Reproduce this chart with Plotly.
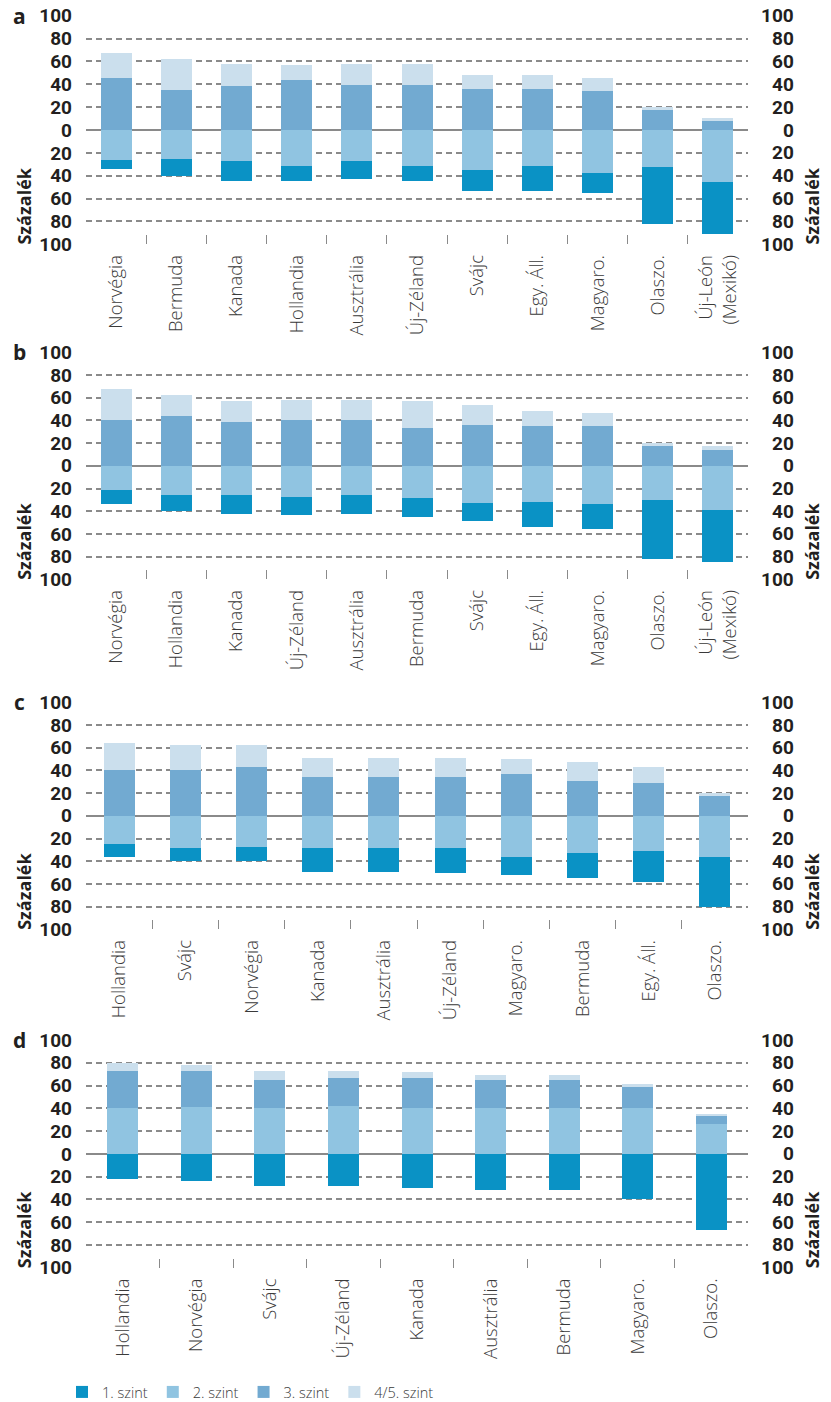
import plotly.graph_objects as go

# ---------------- data ----------------
LEVELS = ["1. szint", "2. szint", "3. szint", "4/5. szint"]
COLORS = ["#0a92c5", "#90c4e1", "#72aad1", "#cbdfed"]

a_cats = ["Norvégia", "Bermuda", "Kanada", "Hollandia", "Ausztrália", "Új-Zéland",
          "Svájc", "Egy. Áll.", "Magyaro.", "Olaszo.", "Új-León<br>(Mexikó)"]
a_l1 = [8, 15, 17, 13, 16, 13, 18, 22, 18, 50, 46]
a_l2 = [26, 25, 27, 31, 27, 31, 35, 31, 37, 32, 45]
a_l3 = [46, 35, 39, 44, 40, 40, 36, 36, 34, 18, 8]
a_l45 = [22, 27, 19, 13, 18, 18, 12, 12, 12, 2, 3]

b_cats = ["Norvégia", "Hollandia", "Kanada", "Új-Zéland", "Ausztrália", "Bermuda",
          "Svájc", "Egy. Áll.", "Magyaro.", "Olaszo.", "Új-León<br>(Mexikó)"]
b_l1 = [12, 14, 17, 16, 17, 16, 16, 22, 22, 52, 46]
b_l2 = [22, 26, 26, 28, 26, 29, 33, 32, 34, 30, 39]
b_l3 = [40, 44, 38, 40, 40, 33, 36, 35, 35, 17, 14]
b_l45 = [27, 18, 19, 18, 18, 24, 17, 13, 11, 3, 3]

c_cats = ["Hollandia", "Svájc", "Norvégia", "Kanada", "Ausztrália", "Új-Zéland",
          "Magyaro.", "Bermuda", "Egy. Áll.", "Olaszo."]
c_l1 = [12, 11, 12, 21, 21, 22, 15, 22, 28, 44]
c_l2 = [25, 29, 28, 29, 29, 29, 37, 33, 31, 37]
c_l3 = [40, 40, 43, 34, 34, 34, 37, 30, 29, 17]
c_l45 = [24, 22, 19, 17, 17, 17, 13, 17, 14, 3]

d_cats = ["Hollandia", "Norvégia", "Svájc", "Új-Zéland", "Kanada", "Ausztrália",
          "Bermuda", "Magyaro.", "Olaszo."]
d_l1 = [22, 24, 28, 28, 30, 32, 32, 40, 67]
d_l2 = [40, 41, 40, 42, 40, 40, 40, 40, 26]
d_l3 = [33, 32, 25, 25, 27, 25, 25, 19, 7]
d_l45 = [7, 5, 8, 6, 5, 4, 4, 2, 2]

panel_letters = ["a", "b", "c", "d"]
y_ticks = [-100, -80, -60, -40, -20, 0, 20, 40, 60, 80, 100]
y_ticktext = [str(abs(v)) for v in y_ticks]

# ---------------- layout geometry ----------------
W, H = 831, 1402
PL, PR = 86, 748            # plot area left/right (px)
PANELS_PX = [(15.7, 244.3), (352.3, 579.3), (702.3, 929.3), (1040, 1267.7)]
BAR_PX = 31
GRID = "#8a8a8a"
TXT = "#231f20"
LBL = "#3a3a3a"
NUM_FONT = dict(family="Roboto", size=19, color=TXT, weight="bold")

panels = [
    (a_cats, a_l1, a_l2, a_l3, a_l45, False),
    (b_cats, b_l1, b_l2, b_l3, b_l45, False),
    (c_cats, c_l1, c_l2, c_l3, c_l45, False),
    (d_cats, d_l1, d_l2, d_l3, d_l45, True),
]

fig = go.Figure()
layout = dict(
    width=W, height=H, autosize=False,
    margin=dict(l=0, r=0, t=0, b=0, autoexpand=False),
    paper_bgcolor="white", plot_bgcolor="white",
    barmode="relative", bargap=0,
    font=dict(family="Open Sans", color=TXT),
)
annotations = []

for i, (cats, l1, l2, l3, l45, l2_up) in enumerate(panels):
    k = "" if i == 0 else str(i + 1)
    xa, ya = "x" + k, "y" + k
    n = len(cats)
    xs = list(range(n))
    width = BAR_PX / ((PR - PL) / n)
    if l2_up:
        series = [(0, [-v for v in l1]), (1, l2), (2, l3), (3, l45)]
    else:
        series = [(1, [-v for v in l2]), (0, [-v for v in l1]), (2, l3), (3, l45)]
    for lev, vals in series:
        fig.add_trace(go.Bar(
            x=xs, y=vals, width=width, name=LEVELS[lev],
            marker=dict(color=COLORS[lev], line=dict(width=0)),
            xaxis=xa, yaxis=ya, showlegend=(i == 0), legendrank=lev + 1,
            hoverinfo="skip",
        ))
    top, bot = PANELS_PX[i]
    layout["xaxis" + k] = dict(
        domain=[PL / W, PR / W], anchor=ya, type="linear", automargin=False,
        range=[-0.5, n - 0.5], tickmode="array", tickvals=xs, ticktext=cats,
        tickangle=-90, ticks="", showgrid=False, zeroline=False, showline=False,
        tickfont=dict(family="Open Sans", size=18.5, color=LBL, weight=300),
        ticklabelstandoff=6,
        minor=dict(tickmode="array", tickvals=[j + 0.5 for j in range(n - 1)],
                   ticks="inside", ticklen=9, tickwidth=1.2, tickcolor=GRID,
                   showgrid=False),
        fixedrange=True,
    )
    layout["yaxis" + k] = dict(
        domain=[1 - bot / H, 1 - top / H], anchor=xa, automargin=False,
        range=[-100, 100], tickmode="array", tickvals=y_ticks, ticktext=y_ticktext,
        ticks="", showgrid=True, gridcolor=GRID, gridwidth=1.5, griddash="6px,4px",
        zeroline=True, zerolinecolor=GRID, zerolinewidth=2, showline=False,
        tickfont=NUM_FONT, ticklabelstandoff=13, fixedrange=True,
    )
    # right-hand tick labels
    for v, t in zip(y_ticks, y_ticktext):
        annotations.append(dict(
            xref="paper", yref=ya, x=795 / W, y=v, text=t, showarrow=False,
            xanchor="right", yanchor="middle", borderpad=0, font=NUM_FONT))
    # axis titles
    for xp in (24, 812):
        annotations.append(dict(
            xref="paper", yref=ya, x=xp / W, y=-67, text="Százalék", textangle=-90,
            showarrow=False, xanchor="center", yanchor="middle",
            font=dict(family="Open Sans", size=18, color=TXT, weight="bold")))
    # panel letter
    annotations.append(dict(
        xref="paper", yref=ya, x=19 / W, y=100, text=panel_letters[i], showarrow=False,
        xanchor="center", yanchor="middle",
        font=dict(family="Open Sans", size=21, color=TXT, weight="bold")))

layout["annotations"] = annotations
layout["legend"] = dict(
    orientation="h", xref="container", yref="container",
    x=62 / W, xanchor="left", y=1 - 1392 / H, yanchor="middle",
    font=dict(family="Open Sans", size=14.5, color=LBL, weight=300),
    traceorder="normal", entrywidth=0, itemwidth=30, bgcolor="rgba(0,0,0,0)",
)
fig.update_layout(**layout)

fig.write_html("out.html", config={"displayModeBar": False},
               post_script="document.body.style.margin='0';")
